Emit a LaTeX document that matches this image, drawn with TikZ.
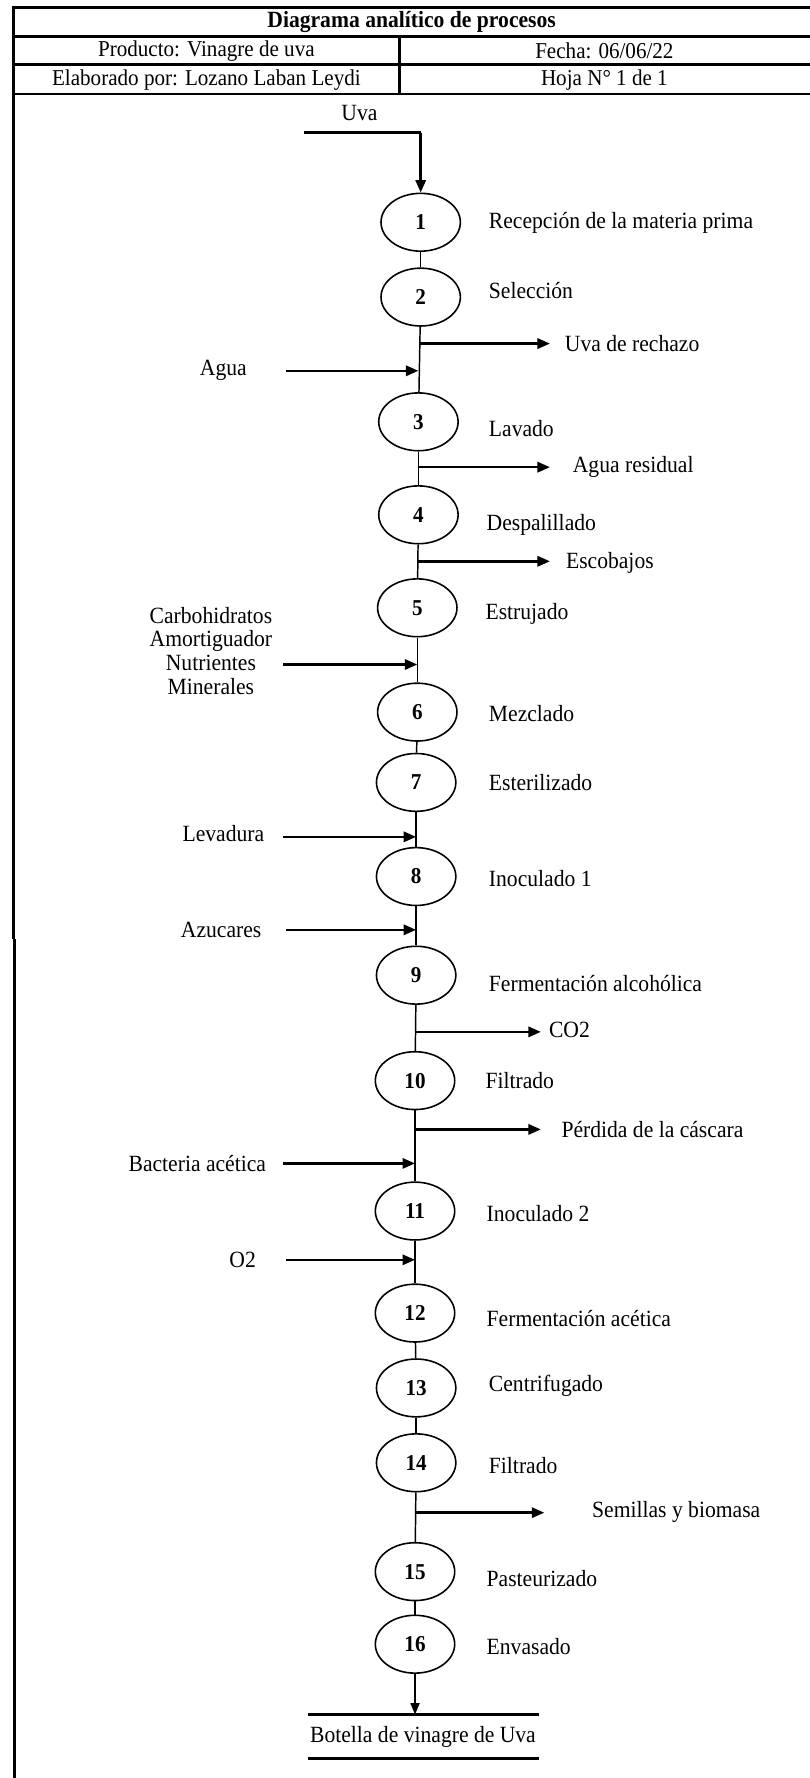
\documentclass[tikz,border=0pt]{standalone}
\usepackage{fontspec}
\setmainfont{Liberation Serif}[FakeStretch=0.93]
\usetikzlibrary{shapes.geometric,arrows.meta}
\begin{document}
\begin{tikzpicture}[x=1pt,y=-1pt,
  every node/.style={font=\fontsize{20.5}{23.5}\selectfont, inner sep=0pt},
  proc/.style={draw, ellipse, minimum width=70pt, minimum height=51pt, line width=1.4pt, font=\fontsize{20}{23}\selectfont\bfseries},
  lbl/.style={anchor=west},
  flow/.style={line width=1.3pt},
  inarr/.style={line width=2.2pt, -{Triangle[length=11pt,width=9pt]}},
  endarr/.style={line width=1.3pt, -{Triangle[length=10pt,width=8pt]}},
  frame/.style={line width=2.6pt},
  hline/.style={line width=2.4pt},
  head/.style={font=\fontsize{20}{23}\selectfont}
]
\useasboundingbox (0,0) rectangle (714,1568);
% header
\draw[hline] (11,6.5) -- (714,6.5);
\draw[hline] (11,32) -- (714,32);
\draw[hline] (11,57) -- (714,57);
\draw[hline] (11,83) -- (714,83);
\draw[frame] (11.8,5.2) -- (11.8,828);
\draw[frame] (12.8,828) -- (12.8,1568);
\draw[hline] (352,32) -- (352,83);
\node[font=\fontsize{20.5}{23}\selectfont\bfseries] (title) at (363,19.5) {Diagrama analítico de procesos};
\node[head] (prod) at (182,45) {Producto: Vinagre de uva};
\node[head] (fecha) at (533,45) {Fecha: 06/06/22};
\node[head] (elab) at (182,70.5) {Elaborado por: Lozano Laban Leydi};
\node[head] (hoja) at (533,70.5) {Hoja N\textdegree\ 1 de 1};

% process nodes
\node[proc] (c1) at (371,196) {1};
\node[proc] (c2) at (371,262) {2};
\node[proc] (c3) at (369,372) {3};
\node[proc] (c4) at (369,454) {4};
\node[proc] (c5) at (368,536) {5};
\node[proc] (c6) at (368,628) {6};
\node[proc] (c7) at (367,690) {7};
\node[proc] (c8) at (367,773) {8};
\node[proc] (c9) at (367,860) {9};
\node[proc] (c10) at (366,953) {10};
\node[proc] (c11) at (366,1068) {11};
\node[proc] (c12) at (366,1158) {12};
\node[proc] (c13) at (367,1224) {13};
\node[proc] (c14) at (367,1290) {14};
\node[proc] (c15) at (366,1386) {15};
\node[proc] (c16) at (366,1450) {16};

% labels
\node[lbl] (l1) at (431,197) {Recepción de la materia prima};
\node[lbl] (l2) at (431,256) {Selección};
\node[lbl] (l3) at (431,378) {Lavado};
\node[lbl] (l4) at (429,463) {Despalillado};
\node[lbl] (l5) at (428,541) {Estrujado};
\node[lbl] (l6) at (431,629) {Mezclado};
\node[lbl] (l7) at (431,690) {Esterilizado};
\node[lbl] (l8) at (431,775) {Inoculado 1};
\node[lbl] (l9) at (431,867) {Fermentación alcohólica};
\node[lbl] (l10) at (428,953) {Filtrado};
\node[lbl] (l11) at (429,1070) {Inoculado 2};
\node[lbl] (l12) at (429,1163) {Fermentación acética};
\node[lbl] (l13) at (431,1222) {Centrifugado};
\node[lbl] (l14) at (431,1292) {Filtrado};
\node[lbl] (l15) at (429,1392) {Pasteurizado};
\node[lbl] (l16) at (429,1452) {Envasado};

% start
\node (uva) at (317,100) {Uva};
\coordinate (us) at (268,117);
\coordinate (uc) at (371,117);
\draw[line width=2.2pt] (us) -- (uc);
\draw[inarr] (uc) -- (c1.north);

% main line
\draw[flow] (c1) -- (c2);
\draw[flow] (c2) -- (c3);
\draw[flow] (c3) -- (c4);
\draw[flow] (c4) -- (c5);
\draw[flow] (c5) -- (c6);
\draw[flow] (c6) -- (c7);
\draw[flow] (c7) -- (c8);
\draw[flow] (c8) -- (c9);
\draw[flow] (c9) -- (c10);
\draw[flow] (c10) -- (c11);
\draw[flow] (c11) -- (c12);
\draw[flow] (c12) -- (c13);
\draw[flow] (c13) -- (c14);
\draw[flow] (c14) -- (c15);
\draw[flow] (c15) -- (c16);

% outputs
\coordinate (o2s) at (370,303); \coordinate (o2e) at (485,303);
\draw[inarr] (o2s) -- (o2e);
\node[lbl] (out2) at (498,303) {Uva de rechazo};
\coordinate (o3s) at (369,412); \coordinate (o3e) at (485,412);
\draw[inarr] (o3s) -- (o3e);
\node[lbl] (out3) at (505,412) {Agua residual};
\coordinate (o4s) at (368,495); \coordinate (o4e) at (485,495);
\draw[inarr] (o4s) -- (o4e);
\node[lbl] (out4) at (499,496) {Escobajos};
\coordinate (o9s) at (367,910); \coordinate (o9e) at (477,910);
\draw[inarr] (o9s) -- (o9e);
\node[lbl] (out9) at (484,908) {CO2};
\coordinate (o10s) at (366,996); \coordinate (o10e) at (477,996);
\draw[inarr] (o10s) -- (o10e);
\node[lbl] (out10) at (495,996) {Pérdida de la cáscara};
\coordinate (o14s) at (367,1334); \coordinate (o14e) at (480,1334);
\draw[inarr] (o14s) -- (o14e);
\node[lbl] (out14) at (522,1333) {Semillas y biomasa};

% inputs
\node (in3) at (197,327) {Agua};
\coordinate (i3s) at (252,327); \coordinate (i3e) at (369,327);
\draw[inarr] (i3s) -- (i3e);
\node[align=center, font=\fontsize{20.5}{21}\selectfont] (in6) at (186,574) {Carbohidratos\\Amortiguador\\Nutrientes\\Minerales};
\coordinate (i6s) at (250,586); \coordinate (i6e) at (368,586);
\draw[inarr] (i6s) -- (i6e);
\node (in8) at (197,735) {Levadura};
\coordinate (i8s) at (250,738); \coordinate (i8e) at (367,738);
\draw[inarr] (i8s) -- (i8e);
\node (in9) at (195,820) {Azucares};
\coordinate (i9s) at (252,820); \coordinate (i9e) at (367,820);
\draw[inarr] (i9s) -- (i9e);
\node (in11) at (174,1026) {Bacteria acética};
\coordinate (i11s) at (250,1026); \coordinate (i11e) at (366,1026);
\draw[inarr] (i11s) -- (i11e);
\node (in12) at (214,1111) {O2};
\coordinate (i12s) at (252,1111); \coordinate (i12e) at (366,1111);
\draw[inarr] (i12s) -- (i12e);

% end product
\coordinate (ftl) at (272,1512); \coordinate (ftr) at (475,1512);
\coordinate (fbl) at (272,1551); \coordinate (fbr) at (475,1551);
\coordinate (fin) at (366,1512);
\draw[hline] (ftl) -- (ftr);
\draw[hline] (fbl) -- (fbr);
\node (prodfinal) at (373,1532) {Botella de vinagre de Uva};
\draw[endarr] (c16) -- (fin);
\end{tikzpicture}
\end{document}
